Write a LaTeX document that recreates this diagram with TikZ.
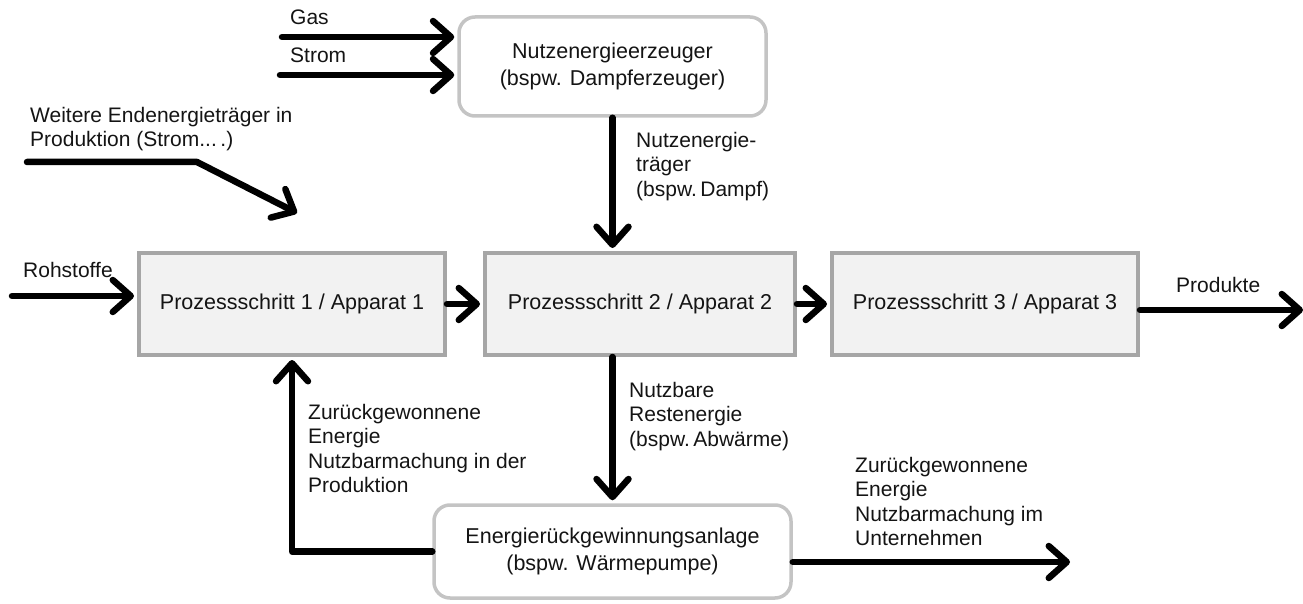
\documentclass[tikz,border=0pt]{standalone}
\usepackage{fontspec}
\setmainfont{Liberation Sans}
\usetikzlibrary{arrows.meta}
\definecolor{boxgray}{HTML}{A6A6A6}
\definecolor{lightgray2}{HTML}{C4C4C4}
\definecolor{boxfill}{HTML}{F2F2F2}
\definecolor{txt}{HTML}{141414}
\begin{document}
\begin{tikzpicture}[x=1pt,y=-1pt,
  every node/.style={text=txt},
  lbl/.style={anchor=north west, inner sep=0pt, align=left, font=\fontsize{21}{24.5}\selectfont},
  procbox/.style={draw=boxgray, line width=4pt, fill=boxfill, minimum width=306pt, minimum height=102pt, inner sep=0pt, font=\fontsize{21.5}{27.5}\selectfont},
  roundbox/.style={draw=lightgray2, line width=3.5pt, fill=white, rounded corners=16pt, inner sep=0pt, align=center, font=\fontsize{21.5}{27.5}\selectfont},
  arr/.style={line width=6.5pt, line join=round, line cap=round, -{Straight Barb[length=18pt, width=32pt, line cap=round, line join=round]}, shorten >=3pt}
]
\useasboundingbox (0,0) rectangle (1303,604);

% process boxes
\node[procbox] (p1) at (292,304) {Prozessschritt 1 / Apparat 1};
\node[procbox, minimum width=310pt] (p2) at (640,304) {Prozessschritt 2 / Apparat 2};
\node[procbox] (p3) at (985,304) {Prozessschritt 3 / Apparat 3};

% rounded boxes
\node[roundbox, minimum width=307pt, minimum height=99pt] (top) at (612.5,66.5) {Nutzenergieerzeuger\\(bspw. Dampferzeuger)};
\node[roundbox, minimum width=357pt, minimum height=93pt] (bot) at (612.5,551.5) {Energierückgewinnungsanlage\\(bspw. Wärmepumpe)};

% free ends
\coordinate (gas0) at (282,37);
\coordinate (strom0) at (280,75);
\coordinate (roh0) at (12,296);
\coordinate (prod1) at (1303,310);
\coordinate (we0) at (27,162);
\coordinate (we1) at (197,162);
\coordinate (we2) at (297,213);
\coordinate (unt1) at (1070,562);

% arrows
\draw[arr] (gas0) -- (gas0 -| top.west);
\draw[arr] (strom0) -- (strom0 -| top.west);
\draw[arr] (roh0) -- (roh0 -| p1.west);
\draw[arr] (p1.east) -- (p2.west);
\draw[arr] (p2.east) -- (p3.west);
\draw[arr, shorten >=0pt] (p3.east |- prod1) -- (prod1);
\draw[arr] (top.south) -- (top.south |- p2.north);
\draw[arr] (p2.south -| bot.north) -- (bot.north);
\draw[arr] (bot.west) -| (p1.south);
\draw[arr, shorten >=0pt] (bot.east |- unt1) -- (unt1);
\draw[arr, shorten >=0pt] (we0) -- (we1) -- (we2);

% labels
\node[lbl] (lgas) at (290,10) {Gas};
\node[lbl] (lstrom) at (290,48) {Strom};
\node[lbl] (lwe) at (30,107) {Weitere Endenergieträger in\\Produktion (Strom...\,.)};
\node[lbl] (lroh) at (23,262) {Rohstoffe};
\node[lbl] (lprod) at (1176,277) {Produkte};
\node[lbl] (lnt) at (636,132) {Nutzenergie-\\träger\\(bspw.\,Dampf)};
\node[lbl] (lnr) at (629,382) {Nutzbare\\Restenergie\\(bspw.\,Abwärme)};
\node[lbl] (lzp) at (308,404) {Zurückgewonnene\\Energie\\Nutzbarmachung in der\\Produktion};
\node[lbl] (lzu) at (855,457) {Zurückgewonnene\\Energie\\Nutzbarmachung im\\Unternehmen};
\end{tikzpicture}
\end{document}
